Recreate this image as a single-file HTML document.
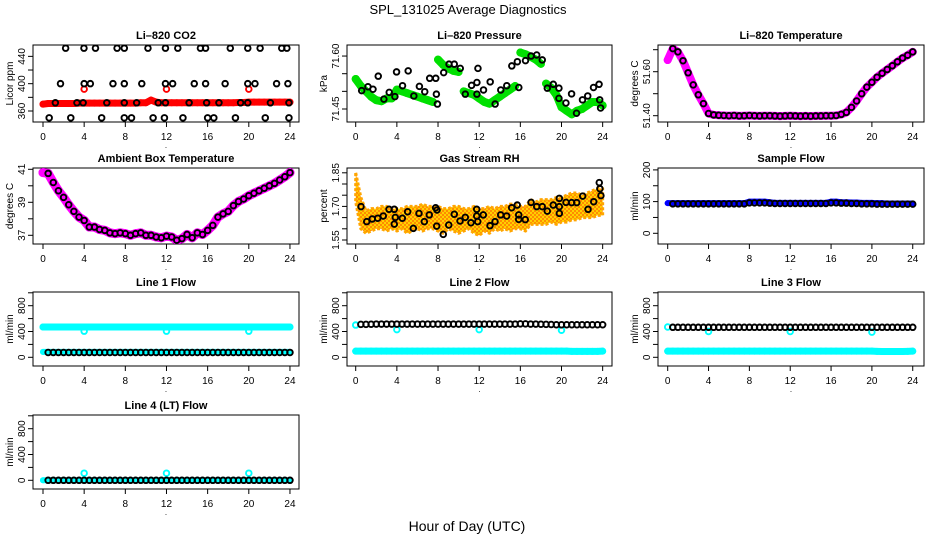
<!DOCTYPE html>
<html><head><meta charset="utf-8"><style>
body{margin:0;background:#fff;}
svg{display:block;font-family:"Liberation Sans",sans-serif;}
</style></head><body>
<svg id="c" width="936" height="540" viewBox="0 0 936 540" xmlns="http://www.w3.org/2000/svg">
<rect width="936" height="540" fill="#fff"/>
<text x="468" y="14" font-size="13" text-anchor="middle">SPL_131025  Average Diagnostics</text>
<text x="467" y="531" font-size="14" text-anchor="middle">Hour of Day (UTC)</text>
</svg>
<script>
const H=[0,0.5,1,1.5,2,2.5,3,3.5,4,4.5,5,5.5,6,6.5,7,7.5,8,8.5,9,9.5,10,10.5,11,11.5,12,12.5,13,13.5,14,14.5,15,15.5,16,16.5,17,17.5,18,18.5,19,19.5,20,20.5,21,21.5,22,22.5,23,23.5,24];
const xTicks=[0,4,8,12,16,20,24];
// CO2
const co2Red=[370,371,371,371,371,371,371,371.5,371.5,371.5,371.5,371.5,371.5,371.5,371.5,371.5,371.5,371.5,371.5,372,372,376,373,372,372,372,372,372,372,372,372,372,372,372,372,372,372,372,372.5,372.5,373,373,373,373,373,373,373,373,373];
const co2OutX=[4,12,20];
const co2OutY=[392,392,392];
const co2BlkX=[2.2,3.98,5.1,7.2,7.9,10.2,11.9,13.1,15.3,15.8,18.2,19.9,21.1,23.2,23.7,1.7,4.0,4.6,6.8,7.9,9.6,11.9,12.6,14.7,15.8,17.7,19.9,20.6,22.7,23.8,1.2,3.3,3.9,6.2,7.9,9.1,11.2,11.9,14.2,15.9,17.1,19.2,19.9,22.1,23.9,0.6,2.7,5.7,7.9,8.6,10.7,11.8,13.6,16.0,16.6,18.7,21.6,23.9];
const co2BlkY=[452,452,452,452,452,452,452,452,452,452,452,452,452,452,452,400,400,400,400,400,400,400,400,400,400,400,400,400,400,400,372,372,372,372,372,372,372,372,372,372,372,372,372,372,372,350,350,350,350,350,350,350,350,350,350,350,350,350];
// Pressure
const presGreen=[71.535,71.515,71.50,71.485,71.475,71.472,71.48,71.48,71.505,71.50,71.495,71.49,71.485,71.48,71.475,71.47,71.59,71.575,71.565,71.558,71.555,71.50,71.495,71.49,71.48,71.47,71.465,71.475,71.485,71.495,71.505,71.515,71.61,71.605,71.598,71.59,71.578,71.522,71.51,71.49,71.455,71.445,71.435,71.445,71.45,71.46,71.47,71.47,71.46];
const presBlkX=[0.58,1.19,1.68,2.19,2.74,3.26,3.81,3.97,4.55,5.10,5.65,6.19,6.71,7.19,7.78,7.84,7.94,8.55,9.07,9.58,10.16,10.65,11.26,11.78,11.88,11.78,12.42,13.07,13.55,14.1,14.68,15.17,15.71,15.85,16.5,17.04,17.59,18.13,18.62,19.2,19.75,19.75,20.43,20.98,21.46,22.04,22.55,23.11,23.65,23.71,23.8];
const presBlkY=[71.502,71.513,71.506,71.543,71.478,71.497,71.485,71.555,71.516,71.558,71.487,71.514,71.499,71.537,71.537,71.492,71.464,71.553,71.577,71.577,71.565,71.492,71.517,71.525,71.565,71.492,71.504,71.527,71.464,71.504,71.516,71.572,71.584,71.511,71.587,71.600,71.603,71.589,71.509,71.52,71.509,71.48,71.467,71.493,71.438,71.476,71.487,71.511,71.52,71.476,71.453];
// Li-820 temperature
const tempMag=[51.653,51.705,51.69,51.65,51.595,51.54,51.495,51.455,51.41,51.404,51.402,51.401,51.400,51.401,51.399,51.400,51.401,51.400,51.399,51.400,51.400,51.399,51.398,51.399,51.400,51.399,51.398,51.399,51.398,51.399,51.399,51.400,51.400,51.401,51.406,51.415,51.438,51.467,51.50,51.53,51.552,51.575,51.593,51.61,51.627,51.645,51.662,51.675,51.69];
// Ambient box
const ambMag=[40.8,40.75,40.2,39.7,39.3,38.85,38.45,38.1,37.9,37.5,37.5,37.35,37.3,37.15,37.1,37.15,37.1,37.0,37.1,37.15,37.0,37.0,36.9,36.85,36.95,36.9,36.7,36.8,37.05,36.85,37.15,37.05,37.3,37.6,38.1,38.3,38.45,38.8,39.05,39.2,39.4,39.55,39.7,39.85,40.0,40.15,40.35,40.55,40.8];
// Gas RH
const rhLow=[1.72,1.60,1.58,1.59,1.60,1.60,1.59,1.60,1.59,1.60,1.58,1.59,1.60,1.59,1.60,1.60,1.59,1.58,1.60,1.59,1.58,1.59,1.60,1.58,1.57,1.59,1.58,1.60,1.59,1.60,1.59,1.60,1.60,1.59,1.62,1.62,1.62,1.62,1.63,1.62,1.63,1.63,1.64,1.64,1.65,1.65,1.65,1.66,1.66];
const rhHigh=[1.85,1.74,1.68,1.69,1.69,1.70,1.70,1.69,1.69,1.69,1.70,1.70,1.70,1.71,1.70,1.70,1.70,1.69,1.69,1.70,1.70,1.69,1.69,1.70,1.69,1.69,1.70,1.69,1.70,1.70,1.71,1.71,1.70,1.70,1.73,1.72,1.73,1.73,1.73,1.74,1.74,1.75,1.76,1.76,1.75,1.76,1.77,1.78,1.78];
const rhBlkX=[0.52,1.07,1.61,2.14,2.68,3.24,3.75,3.75,3.85,4.53,5.05,5.6,6.15,6.67,7.15,7.77,7.87,7.9,8.51,9.04,9.58,10.14,10.65,11.2,11.76,11.76,11.86,12.4,13.05,13.54,14.09,14.67,15.16,15.7,15.84,15.84,16.48,17.04,17.59,18.13,18.62,19.2,19.79,19.79,19.79,20.44,20.99,21.48,22.06,22.58,23.13,23.67,23.73,23.83];
const rhBlkY=[1.699,1.632,1.644,1.647,1.657,1.687,1.687,1.621,1.651,1.647,1.676,1.602,1.669,1.632,1.662,1.694,1.612,1.684,1.575,1.617,1.665,1.635,1.651,1.627,1.687,1.657,1.632,1.662,1.614,1.632,1.662,1.657,1.694,1.706,1.662,1.642,1.641,1.718,1.699,1.699,1.679,1.706,1.736,1.699,1.669,1.718,1.717,1.717,1.746,1.687,1.721,1.806,1.779,1.748];
// Sample flow
const sfBlue=[95,95,95,95,95,95,95,95,95,95,95,95,95,95,95,95,100,100,100,100,98,96,96,96,96,96,96,96,96,96,96,96,100,100,98,98,97,97,96,96,96,95,95,94,94,94,94,94,94];
const sfBlack=[93,93,93,93,93,93,93,93,93,93,93,93,93,93,93,93,96,96,96,96,95,94,94,94,94,94,94,94,94,94,94,94,96,96,95,95,94,94,93,93,93,92,92,92,92,92,92,92,92];
// Line flows
const c470=[470,470,470,470,470,470,470,470,470,470,470,470,470,470,470,470,470,470,470,470,470,470,470,470,470,470,470,470,470,470,470,470,470,470,470,470,470,470,470,470,470,470,470,470,470,470,470,470,470];
const l1CyanLow=[85,85,85,85,85,85,85,85,85,85,85,85,85,85,85,85,85,85,85,85,85,85,85,85,85,85,85,85,85,85,85,85,85,85,85,85,85,85,85,85,85,85,85,85,85,85,85,85,85];
const l1Black=[75,75,75,75,75,75,75,75,75,75,75,75,75,75,75,75,75,75,75,75,75,75,75,75,75,75,75,75,75,75,75,75,75,75,75,75,75,75,75,75,75,75,75,75,75,75,75,75,75];
const outX=[4,12,20];
const l1Out=[405,405,405];
const l2Black=[510,510,510,512,515,515,515,515,515,515,515,515,515,515,515,515,515,515,515,515,515,515,515,515,515,515,515,515,515,515,515,515,518,518,515,515,512,510,508,505,505,505,505,505,505,505,505,505,505];
const l2Cyan=[95,95,95,95,95,95,95,95,95,95,95,95,95,95,95,95,95,95,95,95,95,95,95,95,95,95,95,95,95,95,95,95,95,95,95,95,95,95,95,95,95,95,92,92,92,92,92,92,95];
const l2OutX=[0,4,12,20];
const l2Out=[500,430,430,420];
const l3Black=[465,465,465,465,465,465,465,465,465,465,465,465,465,465,465,465,465,465,465,465,465,465,465,465,465,465,465,465,465,465,465,465,465,465,465,465,465,465,465,465,465,465,465,465,465,465,465,465,465];
const l3Cyan=[95,95,95,95,95,95,95,95,95,95,95,95,95,95,95,95,95,95,95,95,95,95,95,95,95,95,95,95,95,95,95,95,95,95,95,95,95,95,95,95,95,92,90,90,90,90,90,92,95];
const l3OutX=[0,4,12,20];
const l3Out=[470,400,400,390];
const l4Black=[0,0,0,0,0,0,0,0,0,0,0,0,0,0,0,0,0,0,0,0,0,0,0,0,0,0,0,0,0,0,0,0,0,0,0,0,0,0,0,0,0,0,0,0,0,0,0,0,0];
const l4Out=[110,110,110];

const NS='http://www.w3.org/2000/svg';
const svg=document.getElementById('c');
function mk(tag,attrs,parent){const e=document.createElementNS(NS,tag);for(const k in attrs)e.setAttribute(k,attrs[k]);(parent||svg).appendChild(e);return e;}

function panel(p){
  const g=mk('g',{});
  
  
  p.g=g;
  p.X=h=>p.x0h+h*p.kx;
  p.Y=v=>p.yRef-(v-p.vRef)*p.ky;
  const t=mk('text',{x:(p.bx0+p.bx1)/2,y:p.by0-6,'font-size':11,'font-weight':'bold','text-anchor':'middle'},g);
  t.textContent=p.title;
  
  
  const yl=mk('text',{transform:`translate(${p.bx0-20},${(p.by0+p.by1)/2}) rotate(-90)`,'font-size':10,'text-anchor':'middle'},g);
  yl.textContent=p.ylab;
  
  
  const box=mk('rect',{x:p.bx0,y:p.by0,width:p.bx1-p.bx0,height:p.by1-p.by0,fill:'none',stroke:'#000','stroke-width':1},g);
  
  
  const xa=mk('g',{},g);
  
  
  mk('line',{x1:p.X(0),x2:p.X(24),y1:p.by1,y2:p.by1,stroke:'#000'},xa);
  xTicks.forEach(v=>{
    const x=p.X(v);
    mk('line',{x1:x,x2:x,y1:p.by1,y2:p.by1+5,stroke:'#000'},xa);
    const tl=mk('text',{x:x,y:p.by1+18,'font-size':10,'text-anchor':'middle'},xa);
    tl.textContent=v;
    
    
  });
  const dot=mk('text',{x:(p.bx0+p.bx1)/2,y:p.by1+26,'font-size':8,'text-anchor':'middle'},xa);
  dot.textContent='.';
  const ya=mk('g',{},g);
  
  
  mk('line',{x1:p.bx0,x2:p.bx0,y1:p.Y(p.yt[0]),y2:p.Y(p.yt[p.yt.length-1]),stroke:'#000'},ya);
  p.yt.forEach(v=>{
    const y=p.Y(v);
    mk('line',{x1:p.bx0-5,x2:p.bx0,y1:y,y2:y,stroke:'#000'},ya);
  });
  p.yl.forEach((lab,i)=>{
    const y=p.Y(p.ylv[i]);
    const tl=mk('text',{transform:`translate(${p.bx0-8},${y}) rotate(-90)`,'font-size':10,'text-anchor':'middle'},ya);
    tl.textContent=lab;
    
    
  });
  const clip=mk('clipPath',{id:'clip-'+p.id},g);
  mk('rect',{x:p.bx0,y:p.by0,width:p.bx1-p.bx0,height:p.by1-p.by0},clip);
  p.plot=mk('g',{'clip-path':`url(#clip-${p.id})`},g);
  return p;
}
function band(p,xs,ys,color,w,name,maxJump){
  const g=mk('g',{},p.plot);
  
  
  let seg=[];
  const flush=()=>{if(seg.length>1)mk('polyline',{points:seg.join(' '),fill:'none',stroke:color,'stroke-width':w,'stroke-linecap':'round','stroke-linejoin':'round'},g);seg=[];};
  for(let i=0;i<xs.length;i++){
    if(ys[i]==null){flush();continue;}
    if(i>0&&maxJump&&ys[i-1]!=null&&Math.abs(ys[i]-ys[i-1])>maxJump)flush();
    seg.push(p.X(xs[i])+','+p.Y(ys[i]));
  }
  flush();
  for(let i=0;i<xs.length;i++){
    if(ys[i]==null)continue;
    const c=mk('circle',{cx:p.X(xs[i]),cy:p.Y(ys[i]),r:w/2,fill:color},g);
    
    
  }
}
function pts(p,xs,ys,color,r,sw,name,start){
  const g=mk('g',{},p.plot);
  
  
  for(let i=(start||0);i<xs.length;i++){
    const c=mk('circle',{cx:p.X(xs[i]),cy:p.Y(ys[i]),r:r,fill:'none',stroke:color,'stroke-width':sw},g);
    
    
  }
}
function area(p,xs,lo,hi,name){
  const g=mk('g',{},p.plot);
  
  
  let d='';
  for(let i=0;i<xs.length;i++)d+=(i?'L':'M')+p.X(xs[i])+','+p.Y(hi[i]);
  for(let i=xs.length-1;i>=0;i--)d+='L'+p.X(xs[i])+','+p.Y(lo[i]);
  d+='Z';
  mk('path',{d:d,fill:'url(#rhpat)',stroke:'#ffa500','stroke-width':3,'stroke-linejoin':'round','stroke-dasharray':'3 2'},g);
}
const defs=mk('defs',{});
const pat=mk('pattern',{id:'rhpat',width:4,height:4,patternUnits:'userSpaceOnUse'},defs);
mk('rect',{x:0,y:0,width:4,height:4,fill:'#ffd000'},pat);
mk('rect',{x:0,y:0,width:2,height:2,fill:'#ff8c00'},pat);
mk('rect',{x:2,y:2,width:2,height:2,fill:'#ff8c00'},pat);

const C1={bx0:33,bx1:299,x0h:43,kx:10.29};
const C2={bx0:347,bx1:612,x0h:355.7,kx:10.29};
const C3={bx0:658,bx1:924,x0h:667.7,kx:10.21};
const R1={by0:45,by1:122},R2={by0:168,by1:244},R3={by0:292,by1:366},R4={by0:415,by1:489};
const flowT=[0,200,400,600,800,1000];
const BR=2.8, BW=1.9;

let p;
p=panel(Object.assign({id:'co2',title:'Li\u2013820 CO2',ylab:'Licor ppm',yRef:111,vRef:360,ky:0.683,yt:[360,380,400,420,440],yl:['360','400','440'],ylv:[360,400,440]},C1,R1));
band(p,H,co2Red,'#ff0000',7,'co2-red-series');
pts(p,co2OutX,co2OutY,'#ff0000',BR,BW,'co2-red-outliers');
pts(p,co2BlkX,co2BlkY,'#000',BR,BW,'co2-black-series');

p=panel(Object.assign({id:'pressure',title:'Li\u2013820 Pressure',ylab:'kPa',yRef:109,vRef:71.45,ky:353,yt:[71.45,71.5,71.55,71.6],yl:['71.45','71.60'],ylv:[71.45,71.6]},C2,R1));
band(p,H,presGreen,'#00e000',8,'pressure-green-series',0.04);
pts(p,presBlkX,presBlkY,'#000',BR,BW,'pressure-black-series');

p=panel(Object.assign({id:'li820-temp',title:'Li\u2013820 Temperature',ylab:'degrees C',yRef:115.7,vRef:51.4,ky:220,yt:[51.4,51.5,51.6,51.7],yl:['51.40','51.60'],ylv:[51.4,51.6]},C3,R1));
band(p,H,tempMag,'#ff00ff',8,'li820-temp-magenta-series');
pts(p,H,tempMag,'#000',BR,BW,'li820-temp-black-series',1);

p=panel(Object.assign({id:'ambient',title:'Ambient Box Temperature',ylab:'degrees C',yRef:235.3,vRef:37,ky:16.5,yt:[37,38,39,40,41],yl:['37','39','41'],ylv:[37,39,41]},C1,R2));
band(p,H,ambMag,'#ff00ff',9,'ambient-magenta-series');
pts(p,H,ambMag,'#000',BR,BW,'ambient-black-series',1);

p=panel(Object.assign({id:'rh',title:'Gas Stream RH',ylab:'percent',yRef:240,vRef:1.55,ky:224,yt:[1.55,1.6,1.65,1.7,1.75,1.8,1.85],yl:['1.55','1.70','1.85'],ylv:[1.55,1.7,1.85]},C2,R2));
area(p,H,rhLow,rhHigh,'rh-orange-band');
pts(p,rhBlkX,rhBlkY,'#000',BR,BW,'rh-black-series');

p=panel(Object.assign({id:'sample-flow',title:'Sample Flow',ylab:'ml/min',yRef:233.3,vRef:0,ky:0.317,yt:[0,50,100,150,200],yl:['0','100','200'],ylv:[0,100,200]},C3,R2));
band(p,H,sfBlue,'#0000ff',6,'sample-flow-blue-series');
pts(p,H,sfBlack,'#000',BR,BW,'sample-flow-black-series',1);

p=panel(Object.assign({id:'line1',title:'Line 1 Flow',ylab:'ml/min',yRef:357.3,vRef:0,ky:0.0645,yt:flowT,yl:['0','400','800'],ylv:[0,400,800]},C1,R3));
band(p,H,c470,'#00ffff',7,'line1-cyan-high');
band(p,H,l1CyanLow,'#00ffff',6,'line1-cyan-low');
pts(p,outX,l1Out,'#00ffff',BR,BW,'line1-cyan-outliers');
pts(p,H,l1Black,'#000',BR,BW,'line1-black-series',1);

p=panel(Object.assign({id:'line2',title:'Line 2 Flow',ylab:'ml/min',yRef:357.3,vRef:0,ky:0.0645,yt:flowT,yl:['0','400','800'],ylv:[0,400,800]},C2,R3));
band(p,H,l2Cyan,'#00ffff',7,'line2-cyan-series');
pts(p,l2OutX,l2Out,'#00ffff',BR,BW,'line2-cyan-outliers');
pts(p,H,l2Black,'#000',BR,BW,'line2-black-series',1);

p=panel(Object.assign({id:'line3',title:'Line 3 Flow',ylab:'ml/min',yRef:357.3,vRef:0,ky:0.0645,yt:flowT,yl:['0','400','800'],ylv:[0,400,800]},C3,R3));
band(p,H,l3Cyan,'#00ffff',7,'line3-cyan-series');
pts(p,l3OutX,l3Out,'#00ffff',BR,BW,'line3-cyan-outliers');
pts(p,H,l3Black,'#000',BR,BW,'line3-black-series',1);

p=panel(Object.assign({id:'line4',title:'Line 4 (LT) Flow',ylab:'ml/min',yRef:480.3,vRef:0,ky:0.0645,yt:flowT,yl:['0','400','800'],ylv:[0,400,800]},C1,R4));
band(p,H,l4Black,'#00ffff',6,'line4-cyan-series');
pts(p,outX,l4Out,'#00ffff',BR,BW,'line4-cyan-outliers');
pts(p,H,l4Black,'#000',BR,BW,'line4-black-series',1);
</script>
</body></html>
